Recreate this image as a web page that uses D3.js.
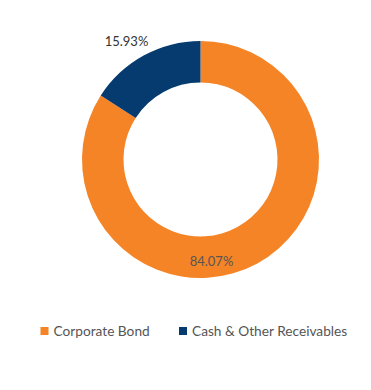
<!DOCTYPE html>
<html><head><meta charset="utf-8">
<script src="https://cdn.jsdelivr.net/npm/d3@7"></script>
<style>body{margin:0;background:#fff;}svg{display:block;font-family:Lato,"Open Sans",sans-serif;}</style>
</head><body>
<svg id="c" width="371" height="390"></svg>
<script>
const categories = ["Corporate Bond", "Cash & Other Receivables"];
const values = [84.07, 15.93];
const labels = ["84.07%", "15.93%"];
const colors = ["#F58426", "#063B70"];

const svg = d3.select("#c");
const cx = 200.5, cy = 159.5, R = 118.5, r = 77;
const g = svg.append("g").attr("transform", `translate(${cx},${cy})`);
const pie = d3.pie().sort(null).value(d => d)(values);
const arc = d3.arc().innerRadius(r).outerRadius(R);
g.selectAll("path").data(pie).enter().append("path")
  .attr("d", arc).attr("fill", (d,i) => colors[i]);

// label placement offsets (layout, not data)
const labelPos = [[11, 106], [-74, -114]];
const labelFill = ["#555", "#333"];
g.selectAll("text.lbl").data(pie).enter().append("text")
  .attr("class","lbl")
  .attr("x", (d,i) => labelPos[i][0]).attr("y", (d,i) => labelPos[i][1])
  .attr("text-anchor","middle").attr("font-size", 13)
  .attr("fill", (d,i) => labelFill[i])
  .text((d,i) => labels[i]);

// legend
const legX = [40.5, 179];
const lg = svg.append("g").selectAll("g").data(categories).enter().append("g")
  .attr("transform", (d,i) => `translate(${legX[i]},327)`);
lg.append("rect").attr("width", 8).attr("height", 8).attr("fill", (d,i) => colors[i]);
lg.append("text").attr("x", 13).attr("y", 8.5).attr("font-size", 13.7).attr("fill", "#555").text(d => d);
</script>
</body></html>
